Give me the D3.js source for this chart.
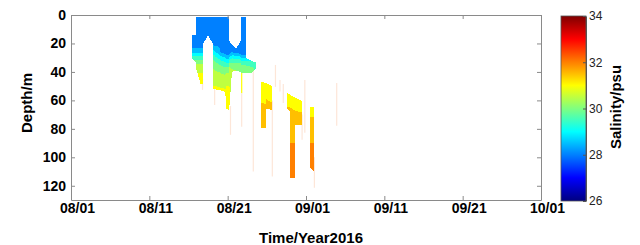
<!DOCTYPE html>
<html>
<head>
<meta charset="utf-8">
<script src="https://cdn.jsdelivr.net/npm/d3@7"></script>
<style>
    body { margin: 0; background: #fff; }
    text { font-family: "Liberation Sans", Arial, sans-serif; }
</style>
</head>
<body>
<svg id="chart" width="640" height="245"></svg>
<script>
// x axis is days since 08/01, ticks every 10 days as labelled
const dayTicks = [0, 10, 20, 30, 40, 50, 60]
const dayLabels = ['08/01', '08/11', '08/21', '09/01', '09/11', '09/21', '10/01']
const depthTicks = [0, 20, 40, 60, 80, 100, 120]
const salTicks = [26, 28, 30, 32, 34]

// casts, joined into filled sections when they share a group
const castGroup = [1, 1, 1, 1, 1, 1, 1, 1, 1, 1, 1, 1, 1, 1, 1, 1, 1, 1, 1, 1, 1, 1,
    2, 2, 2, 2,
    3, 3, 3, 3, 3, 3,
    4, 4]
const castDay = [15.45, 15.94, 16.00, 16.53, 16.85, 16.89, 17.49, 18.09, 18.14, 19.15, 19.70, 19.79, 20.16, 20.20, 20.55, 21.06, 21.70, 21.75, 22.30, 22.35, 22.98, 23.68,
    24.22, 24.83, 24.87, 25.70,
    27.61, 27.96, 28.00, 28.60, 28.64, 29.45,
    30.51, 31.06]
const castTop = [14.2, 14.2, 1.4, 1.4, 1.4, 1.4, 1.4, 1.4, 1.4, 1.4, 1.4, 1.4, 1.4, 18, 21, 23.6, 18, 1.4, 1.4, 30, 32, 33.5,
    46.8, 47.8, 47.9, 49.8,
    55, 56, 56.2, 58, 58.2, 60.4,
    64.4, 64.4]
const castBottom = [31, 33, 38, 48.2, 48.2, 20, 14.2, 20, 52, 53, 54, 66, 66.7, 66, 40, 39, 40, 41, 41, 41, 41, 37,
    79.5, 79.5, 66, 66.7,
    66, 68, 114.6, 114.6, 77.2, 77.2,
    107.4, 110.2]
// salinity profiles as [depth, psu] pairs
const castSal = [
    [[0, 28.2], [23, 28.45], [26, 28.95], [28.5, 29.45], [31, 29.95], [34, 30.45], [39, 30.95], [48, 31.2]],
    [[0, 28.2], [23, 28.45], [26, 28.95], [28.5, 29.45], [31, 29.95], [34, 30.45], [39, 30.95], [48, 31.2]],
    [[0, 28.2], [23, 28.45], [26, 28.95], [28.5, 29.45], [31, 29.95], [34, 30.45], [39, 30.95], [48, 31.2]],
    [[0, 28.2], [23, 28.45], [26, 28.95], [28.5, 29.45], [31, 29.95], [34, 30.45], [39, 30.95], [48, 31.2]],
    [[0, 28.2], [23, 28.45], [26, 28.95], [28.5, 29.45], [31, 29.95], [34, 30.45], [39, 30.95], [48, 31.2]],
    [[0, 28.2], [25, 28.4]],
    [[0, 28.2], [25, 28.4]],
    [[0, 28.2], [25, 28.4]],
    [[0, 28.2], [21, 28.45], [24, 28.95], [27, 29.45], [31, 29.95], [36, 30.45], [48, 30.95], [52, 31.1]],
    [[0, 28.2], [26, 28.45], [28.5, 28.95], [31.5, 29.45], [35, 29.95], [40, 30.45], [50, 30.95], [53, 31.1]],
    [[0, 28.2], [27, 28.45], [29.5, 28.95], [32.5, 29.45], [36, 29.95], [41, 30.45], [51, 30.95], [54, 31.1]],
    [[0, 28.2], [28, 28.45], [30.5, 28.95], [33, 29.45], [36, 29.95], [40, 30.45], [46, 30.95], [66, 31.2]],
    [[0, 28.2], [28, 28.45], [30.5, 28.95], [33, 29.45], [36, 29.95], [40, 30.45], [46, 30.95], [66, 31.2]],
    [[18, 28.2], [27, 28.45], [29, 28.95], [31, 29.45], [33, 29.95], [36, 30.45], [41, 30.95], [66, 31.2]],
    [[21, 28.2], [26, 28.45], [28, 28.95], [30, 29.45], [33, 29.95], [37, 30.45], [40, 30.6]],
    [[23.6, 28.2], [26.5, 28.45], [28.5, 28.95], [30.5, 29.45], [33, 29.95], [37, 30.45], [39, 30.5]],
    [[18, 28.2], [27, 28.45], [29, 28.95], [31, 29.45], [33.5, 29.95], [38, 30.45], [40, 30.5]],
    [[0, 28.2], [28, 28.45], [30, 28.95], [32, 29.45], [34.5, 29.95], [39, 30.45], [41, 30.5]],
    [[0, 28.2], [28, 28.45], [30, 28.95], [32, 29.45], [34.5, 29.95], [39, 30.45], [41, 30.5]],
    [[30, 28.95], [32, 29.45], [35, 29.95], [41, 30.3]],
    [[32, 29.45], [35, 29.95], [41, 30.2]],
    [[33, 29.6], [37, 29.95]],
    [[46, 31.2], [57, 31.45], [80, 31.7]],
    [[47, 31.2], [58, 31.45], [80, 31.7]],
    [[47, 31.2], [57, 31.45], [66, 31.7]],
    [[49, 31.2], [60, 31.45], [67, 31.7]],
    [[55, 31.2], [63, 31.45], [68, 31.6]],
    [[55, 31.2], [63, 31.45], [68, 31.6]],
    [[56, 31.2], [62, 31.45], [89, 31.9], [90, 32.05], [115, 32.3]],
    [[58, 31.2], [64, 31.45], [89, 31.9], [90, 32.05], [115, 32.3]],
    [[58, 31.2], [65, 31.45], [77, 31.7]],
    [[60, 31.2], [66, 31.45], [77, 31.7]],
    [[64, 31.2], [69, 31.45], [89, 31.9], [90, 32.05], [111, 32.3]],
    [[64, 31.2], [69, 31.45], [89, 31.9], [90, 32.05], [111, 32.3]]
]

// lone casts, drawn as thin lines (null salinity = faint trace)
const lineDay = [16.79, 18.34, 20.36, 21.79, 21.79, 23.27, 25.70, 26.10, 26.68, 27.10, 29.50, 29.85, 31.07, 33.92]
const lineTop = [45, 50, 64, 40, 55, 38.6, 60, 35.1, 45.6, 48.4, 70, 45.6, 100, 47.7]
const lineBottom = [52.6, 63.2, 84.2, 55, 78.6, 110, 113.5, 50.5, 53.8, 61.8, 87.7, 82.8, 121.4, 77.9]
const lineSal = [null, null, null, 31.2, null, null, null, null, null, null, null, null, null, null]

const svg = d3.select('#chart')
const plot = { left: 71, right: 541, top: 15, bottom: 200 }
const axisColor = '#8a8a8a'

const x = d3.scaleLinear().domain([0, 60]).range([plot.left, plot.right])
const y = d3.scaleLinear().domain([0, 130]).range([plot.top, plot.bottom])

function jet(t) {
    const c = v => Math.max(0, Math.min(1, v))
    return d3.rgb(255 * c(1.5 - Math.abs(4 * t - 3)), 255 * c(1.5 - Math.abs(4 * t - 2)), 255 * c(1.5 - Math.abs(4 * t - 1))).formatHex()
}
const color = d3.scaleSequential(jet).domain([26, 34])
const level = s => Math.floor(s * 2) / 2   // contour levels every 0.5 psu

// thin casts first, fills go on top
svg.append('g')
    .selectAll('line')
    .data(lineDay.map((d, i) => ({ day: d, top: lineTop[i], bottom: lineBottom[i], sal: lineSal[i] })))
    .join('line')
    .attr('x1', d => x(d.day))
    .attr('x2', d => x(d.day))
    .attr('y1', d => y(d.top))
    .attr('y2', d => y(d.bottom))
    .attr('stroke', d => d.sal == null ? '#fde6d8' : color(level(d.sal)))
    .attr('stroke-width', 1.2)

// fill between neighbouring casts, one pixel column at a time, banded like a filled contour plot
const cells = []
for (let i = 0; i < castDay.length - 1; i++) {
    if (castGroup[i] != castGroup[i + 1]) continue
    const sa = d3.scaleLinear().domain(castSal[i].map(n => n[0])).range(castSal[i].map(n => n[1])).clamp(true)
    const sb = d3.scaleLinear().domain(castSal[i + 1].map(n => n[0])).range(castSal[i + 1].map(n => n[1])).clamp(true)
    const x0 = x(castDay[i]), x1 = x(castDay[i + 1])
    for (let px = Math.round(x0); px < Math.round(x1); px++) {
        const t = Math.max(0, Math.min(1, (px + 0.5 - x0) / (x1 - x0)))
        const top = castTop[i] + t * (castTop[i + 1] - castTop[i])
        const bot = castBottom[i] + t * (castBottom[i + 1] - castBottom[i])
        if (bot <= top) continue
        const sal = d => sa(d) + t * (sb(d) - sa(d))
        let start = top
        let lv = level(sal(top))
        for (let d = top + 0.2; d < bot; d += 0.2) {
            const l = level(sal(d))
            if (l != lv) {
                cells.push({ x: px, d0: start, d1: d, s: lv })
                start = d
                lv = l
            }
        }
        cells.push({ x: px, d0: start, d1: bot, s: lv })
    }
}

svg.append('g')
    .attr('shape-rendering', 'crispEdges')
    .selectAll('rect')
    .data(cells)
    .join('rect')
    .attr('x', d => d.x)
    .attr('y', d => y(d.d0))
    .attr('width', 1)
    .attr('height', d => y(d.d1) - y(d.d0))
    .attr('fill', d => color(d.s))

// axes, MATLAB style box with inward ticks
const styleAxis = (g) => {
    g.select('.domain').attr('stroke', axisColor)
    g.selectAll('.tick line').attr('stroke', axisColor)
    g.attr('font-family', '"Liberation Sans", Arial, sans-serif')
        .attr('font-size', 14)
        .attr('font-weight', 'bold')
    g.selectAll('.tick text').attr('fill', '#000')
}

svg.append('g')
    .attr('transform', `translate(0,${plot.bottom})`)
    .call(d3.axisBottom(x).tickValues(dayTicks).tickFormat((d, i) => dayLabels[i]).tickSizeInner(-4).tickSizeOuter(0).tickPadding(3))
    .call(styleAxis)
    .selectAll('.tick text').attr('dx', 6)

svg.append('g')
    .attr('transform', `translate(0,${plot.top})`)
    .call(d3.axisTop(x).tickValues(dayTicks).tickFormat('').tickSizeInner(-4).tickSizeOuter(0))
    .call(styleAxis)

svg.append('g')
    .attr('transform', `translate(${plot.left},0)`)
    .call(d3.axisLeft(y).tickValues(depthTicks).tickSizeInner(-4).tickSizeOuter(0).tickPadding(5))
    .call(styleAxis)

svg.append('g')
    .attr('transform', `translate(${plot.right},0)`)
    .call(d3.axisRight(y).tickValues(depthTicks).tickFormat('').tickSizeInner(-4).tickSizeOuter(0))
    .call(styleAxis)

svg.append('text')
    .attr('x', 311)
    .attr('y', 243)
    .attr('text-anchor', 'middle')
    .attr('font-size', 15)
    .attr('font-weight', 'bold')
    .text('Time/Year2016')

svg.append('text')
    .attr('transform', 'translate(32,103) rotate(-90)')
    .attr('text-anchor', 'middle')
    .attr('font-size', 15)
    .attr('font-weight', 'bold')
    .text('Depth/m')

// colorbar
const bar = { left: 561, width: 25, top: 16, bottom: 201 }
const cb = d3.scaleLinear().domain([26, 34]).range([bar.bottom, bar.top])

const grad = svg.append('defs').append('linearGradient')
    .attr('id', 'jet')
    .attr('x1', 0).attr('y1', 1).attr('x2', 0).attr('y2', 0)
grad.selectAll('stop')
    .data(d3.range(0, 1.0001, 1 / 64))
    .join('stop')
    .attr('offset', d => d)
    .attr('stop-color', d => jet(d))

svg.append('rect')
    .attr('x', bar.left)
    .attr('y', bar.top)
    .attr('width', bar.width)
    .attr('height', bar.bottom - bar.top)
    .attr('fill', 'url(#jet)')
    .attr('stroke', '#555')
    .attr('stroke-width', 0.8)

const cbAxis = svg.append('g')
    .attr('transform', `translate(${bar.left + bar.width},0)`)
    .call(d3.axisRight(cb).tickValues(salTicks).tickSizeInner(-3).tickSizeOuter(0).tickPadding(3))
cbAxis.select('.domain').attr('stroke', '#555')
cbAxis.selectAll('.tick line').attr('stroke', '#555')
cbAxis.attr('font-family', '"Liberation Sans", Arial, sans-serif').attr('font-size', 12)
cbAxis.selectAll('.tick text').attr('fill', '#222')

svg.append('text')
    .attr('transform', 'translate(621,107) rotate(-90)')
    .attr('text-anchor', 'middle')
    .attr('font-size', 15)
    .attr('font-weight', 'bold')
    .text('Salinity/psu')
</script>
</body>
</html>
